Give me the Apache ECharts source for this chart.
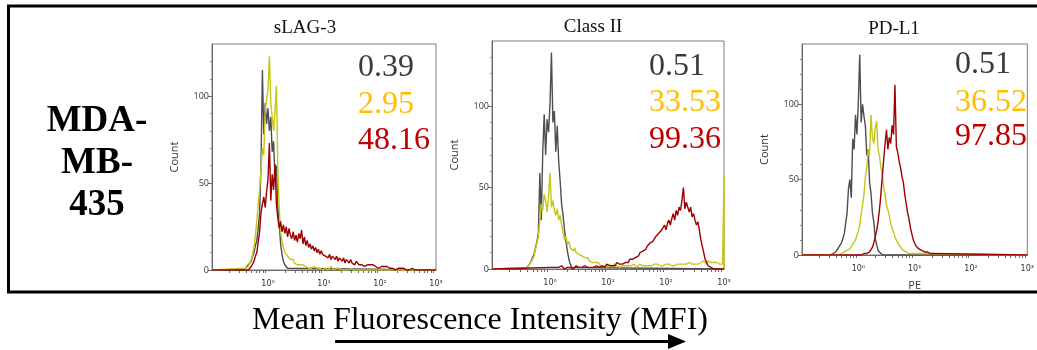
<!DOCTYPE html>
<html>
<head>
<meta charset="utf-8">
<script src="https://cdn.jsdelivr.net/npm/echarts@6/dist/echarts.min.js"></script>
<style>
  html, body { margin: 0; padding: 0; background: #fff; }
  #chart { width: 1037px; height: 350px; }
</style>
</head>
<body>
<div id="chart"></div>
<script>
// Flow cytometry overlays: isotype (gray), control (yellow), stained (red)
const BIN_WIDTH = 0.025; // log10 decades per histogram channel

const panelTitles = ['sLAG-3', 'Class II', 'PD-L1'];
const pctIsotype = [0.39, 0.51, 0.51];
const pctControl = [2.95, 33.53, 36.52];
const pctStained = [48.16, 99.36, 97.85];
const cellLineLines = ['MDA-', 'MB-', '435'];
const xAxisTitle = 'Mean Fluorescence Intensity (MFI)';
const xTickLabels = { 1: '10\u2070', 10: '10\u00b9', 100: '10\u00b2', 1000: '10\u00b3' };
const xMinorTicks = [0.2, 0.3, 0.4, 0.5, 0.6, 0.7, 0.8, 0.9,
  2, 3, 4, 5, 6, 7, 8, 9, 20, 30, 40, 50, 60, 70, 80, 90,
  200, 300, 400, 500, 600, 700, 800, 900];
const yTickValues = [0, 50, 100];

// sLAG-3 — counts per channel, first channel at the given log10 intensity
const slag3GrayStart = -0.45;
const slag3Gray = [0,1,1,2,3,2,5,8,10,14,17,24,33,60,115,78,96,84,93,80,88,68,74,52,60,36,27,15,9,5,3,2,1,0];
const slag3YellowStart = -0.40;
const slag3Yellow = [1,2,2,4,6,9,13,20,28,38,46,58,70,66,92,98,104,123,96,88,80,92,106,58,36,22,17,13,10,11,
  8,7,6,5,6,4,4,3,4,3,2,3,2,2,2,1,2,1,1,2,1,1,2,1,1,0,1,1,1,0,1,2,1,0,1,1,0,1,1,0,1,0,1,0,0,1,0,0,1,0,0,0];
const slag3RedStart = -0.35;
const slag3Red = [0,1,2,3,5,8,10,16,22,33,38,42,36,45,52,73,40,55,46,61,38,30,24,28,22,26,21,25,19,24,
  20,18,22,17,20,16,21,18,23,15,19,14,17,13,15,12,14,11,13,10,12,9,11,9,10,
  8,9,7,9,6,8,7,6,8,5,7,6,5,7,4,6,5,4,6,4,5,3,5,4,3,4,3,4,2,3,3,2,3,2,3,2,2,3,1,2,
  2,1,2,1,2,1,1,2,1,1,0,1,1,0,1,0,1,0,0,1,0,0,1,0,0,0];

// Class II
const class2GrayStart = -0.45;
const class2Gray = [0,1,1,2,3,4,7,9,13,17,22,59,30,72,95,70,92,84,101,133,90,97,72,88,66,54,40,33,24,17,11,6,3,1,0];
const class2YellowStart = -0.40;
const class2Yellow = [1,2,3,4,6,8,12,16,20,30,40,36,46,42,35,44,59,38,42,36,33,37,30,33,27,22,18,20,15,17,
  13,14,11,13,10,11,9,10,8,9,7,6,7,5,6,4,5,4,3,4,3,2,3,
  2,3,1,2,3,2,1,3,2,2,3,1,2,2,3,2,1,2,3,2,2,3,2,1,2,3,2,2,3,2,1,2,3,2,2,3,2,3,2,2,
  3,2,2,3,2,3,3,2,3,2,3,3,2,3,4,3,2,3,3,4,3,3,4,3,4,3,4,4,
  4,5,4,3,5,4,4,3,4,3,4,3,3,4,3,57];
const class2RedStart = 0.0;
const class2Red = [1,0,1,2,1,0,1,1,2,1,0,1,1,2,1,1,0,1,2,1,1,2,1,1,2,1,1,2,1,2,1,1,2,2,1,2,2,
  2,1,3,2,2,3,2,3,2,4,3,3,4,3,4,4,5,4,6,5,6,5,7,7,8,10,9,11,12,12,14,13,16,15,17,
  18,20,19,22,21,24,25,27,24,28,30,27,31,34,30,36,33,38,36,42,50,37,41,38,
  35,38,32,34,30,27,29,24,18,14,10,6,4,2,1,1,0,0,0];

// PD-L1
const pdl1GrayStart = -0.50;
const pdl1Gray = [0,1,1,2,2,3,5,4,8,11,14,21,28,44,50,38,77,70,93,80,101,133,88,100,92,86,66,70,48,41,28,22,11,7,3,2,1,1,0];
const pdl1YellowStart = -0.35;
const pdl1Yellow = [0,1,1,1,2,2,3,3,4,5,7,8,10,13,16,20,27,33,40,52,58,70,66,93,78,74,84,89,70,66,
  58,54,45,40,33,30,26,21,18,15,12,10,8,7,5,4,3,3,2,2,1,1,1,0,1,0];
const pdl1RedStart = 0.05;
const pdl1Red = [0,0,1,0,1,1,2,3,5,8,12,16,22,30,40,52,63,74,83,70,78,74,86,80,113,72,68,62,58,52,
  48,40,34,28,24,18,14,10,8,6,5,4,3,3,2,2,1,2,1,1,0,1,0];

// channel index -> intensity, padded with empty channels at both axis ends
function toPoints(start, counts) {
  const pts = [[0.1, 0]];
  counts.forEach((c, i) => {
    const dec = Math.round((start + i * BIN_WIDTH) * 1000) / 1000;
    pts.push([Math.pow(10, dec), c]);
  });
  pts.push([1000, 0]);
  return pts;
}

const panelTraces = [
  [[slag3GrayStart, slag3Gray], [slag3YellowStart, slag3Yellow], [slag3RedStart, slag3Red]],
  [[class2GrayStart, class2Gray], [class2YellowStart, class2Yellow], [class2RedStart, class2Red]],
  [[pdl1GrayStart, pdl1Gray], [pdl1YellowStart, pdl1Yellow], [pdl1RedStart, pdl1Red]]
];

const lineColors = ['#4e4e4e', '#c6c616', '#9c0000'];
const textColors = ['#3a3a3a', '#ffbf00', '#c00000'];
const axisColor = '#6b6b6b';

const panelBoxes = [
  { left: 212, top: 44, width: 224, height: 226, yMax: 130, nums: [358, 68, 105, 141], titleX: 305, titleY: 28 },
  { left: 492, top: 41, width: 232, height: 228, yMax: 140, nums: [649, 67, 103, 140], titleX: 593, titleY: 27 },
  { left: 802, top: 44, width: 227, height: 211, yMax: 140, nums: [955, 65, 103, 137], titleX: 894, titleY: 29 }
];

const grids = [], xAxes = [], yAxes = [], series = [], graphics = [];

panelBoxes.forEach((b, i) => {
  grids.push({ left: b.left, top: b.top, width: b.width, height: b.height,
    show: true, borderColor: '#7a7a7a', borderWidth: 1, backgroundColor: 'transparent' });
  xAxes.push({
    gridIndex: i, type: 'log', logBase: 10, min: 0.1, max: 1000,
    name: i === 2 ? 'PE' : '', nameLocation: 'middle', nameGap: 25,
    nameTextStyle: { fontFamily: 'Open Sans', fontSize: 11, color: '#333' },
    axisLine: { show: true, onZero: false, lineStyle: { color: axisColor } },
    axisTick: { show: false }, splitLine: { show: false },
    axisLabel: { formatter: v => xTickLabels[Math.round(v)] || '', fontFamily: 'DejaVu Sans',
      fontSize: 8, color: '#333', margin: 10, showMinLabel: true, showMaxLabel: true }
  });
  yAxes.push({
    gridIndex: i, type: 'value', min: 0, max: b.yMax, interval: 50,
    name: 'Count', nameLocation: 'middle', nameGap: 32,
    nameTextStyle: { fontFamily: 'Open Sans', fontSize: 11, color: '#333' },
    axisLine: { show: true, lineStyle: { color: axisColor } },
    axisTick: { show: true, length: 4, customValues: yTickValues, lineStyle: { color: axisColor } },
    minorTick: { show: true, splitNumber: 5, length: 2, lineStyle: { color: '#8a8a8a' } },
    axisLabel: { customValues: yTickValues, fontFamily: 'Open Sans', fontSize: 9, color: '#333', margin: 3 },
    splitLine: { show: false }, minorSplitLine: { show: false }
  });
  // log minor ticks under the intensity axis
  series.push({
    type: 'custom', xAxisIndex: i, yAxisIndex: i, silent: true, clip: false, z: 1,
    data: xMinorTicks.map(v => [v, 0]),
    renderItem: (params, api) => {
      const p = api.coord([api.value(0), 0]);
      const x = Math.round(p[0]) + 0.5;
      return { type: 'line', shape: { x1: x, y1: p[1], x2: x, y2: p[1] + 3 },
        style: { stroke: axisColor, lineWidth: 1 } };
    }
  });
  panelTraces[i].forEach((tr, k) => {
    series.push({
      type: 'line', xAxisIndex: i, yAxisIndex: i, data: toPoints(tr[0], tr[1]),
      showSymbol: false, symbol: 'none', smooth: false, silent: true, z: 2 + k,
      lineStyle: { color: lineColors[k], width: 1.4 }, animation: false
    });
  });
  // panel heading
  graphics.push({ type: 'text', style: { x: b.titleX, y: b.titleY, text: panelTitles[i],
    font: '19px "Liberation Serif"', fill: '#111', textAlign: 'center', textVerticalAlign: 'middle',
    align: 'center', verticalAlign: 'middle' } });
  // percentages
  [pctIsotype[i], pctControl[i], pctStained[i]].forEach((v, k) => {
    graphics.push({ type: 'text', style: { x: b.nums[0], y: b.nums[k + 1], text: v.toFixed(2),
      font: '32px "Liberation Serif"', fill: textColors[k], textAlign: 'left', textVerticalAlign: 'middle',
      align: 'left', verticalAlign: 'middle' } });
  });
});

// outer frame (open on the right, running off the page)
graphics.push({ type: 'rect', shape: { x: 8.5, y: 6, width: 1040, height: 286 },
  style: { fill: 'none', stroke: '#000', lineWidth: 3 }, z: 10 });
// cell line label
cellLineLines.forEach((t, k) => {
  graphics.push({ type: 'text', style: { x: 97, y: 121 + k * 42, text: t,
    font: 'bold 37px "Liberation Serif"', fill: '#000', textAlign: 'center', textVerticalAlign: 'middle',
    align: 'center', verticalAlign: 'middle' } });
});
// shared intensity caption and arrow
graphics.push({ type: 'text', style: { x: 480, y: 321, text: xAxisTitle,
  font: '32px "Liberation Serif"', fill: '#000', textAlign: 'center', textVerticalAlign: 'middle',
  align: 'center', verticalAlign: 'middle' } });
graphics.push({ type: 'line', shape: { x1: 335, y1: 341.5, x2: 670, y2: 341.5 },
  style: { stroke: '#000', lineWidth: 3 } });
graphics.push({ type: 'polygon', shape: { points: [[668, 334], [686, 341.5], [668, 349]] },
  style: { fill: '#000' } });

const chart = echarts.init(document.getElementById('chart'), null, { renderer: 'canvas' });
chart.setOption({
  animation: false,
  backgroundColor: '#fff',
  grid: grids, xAxis: xAxes, yAxis: yAxes, series: series,
  graphic: graphics
});
</script>
</body>
</html>
